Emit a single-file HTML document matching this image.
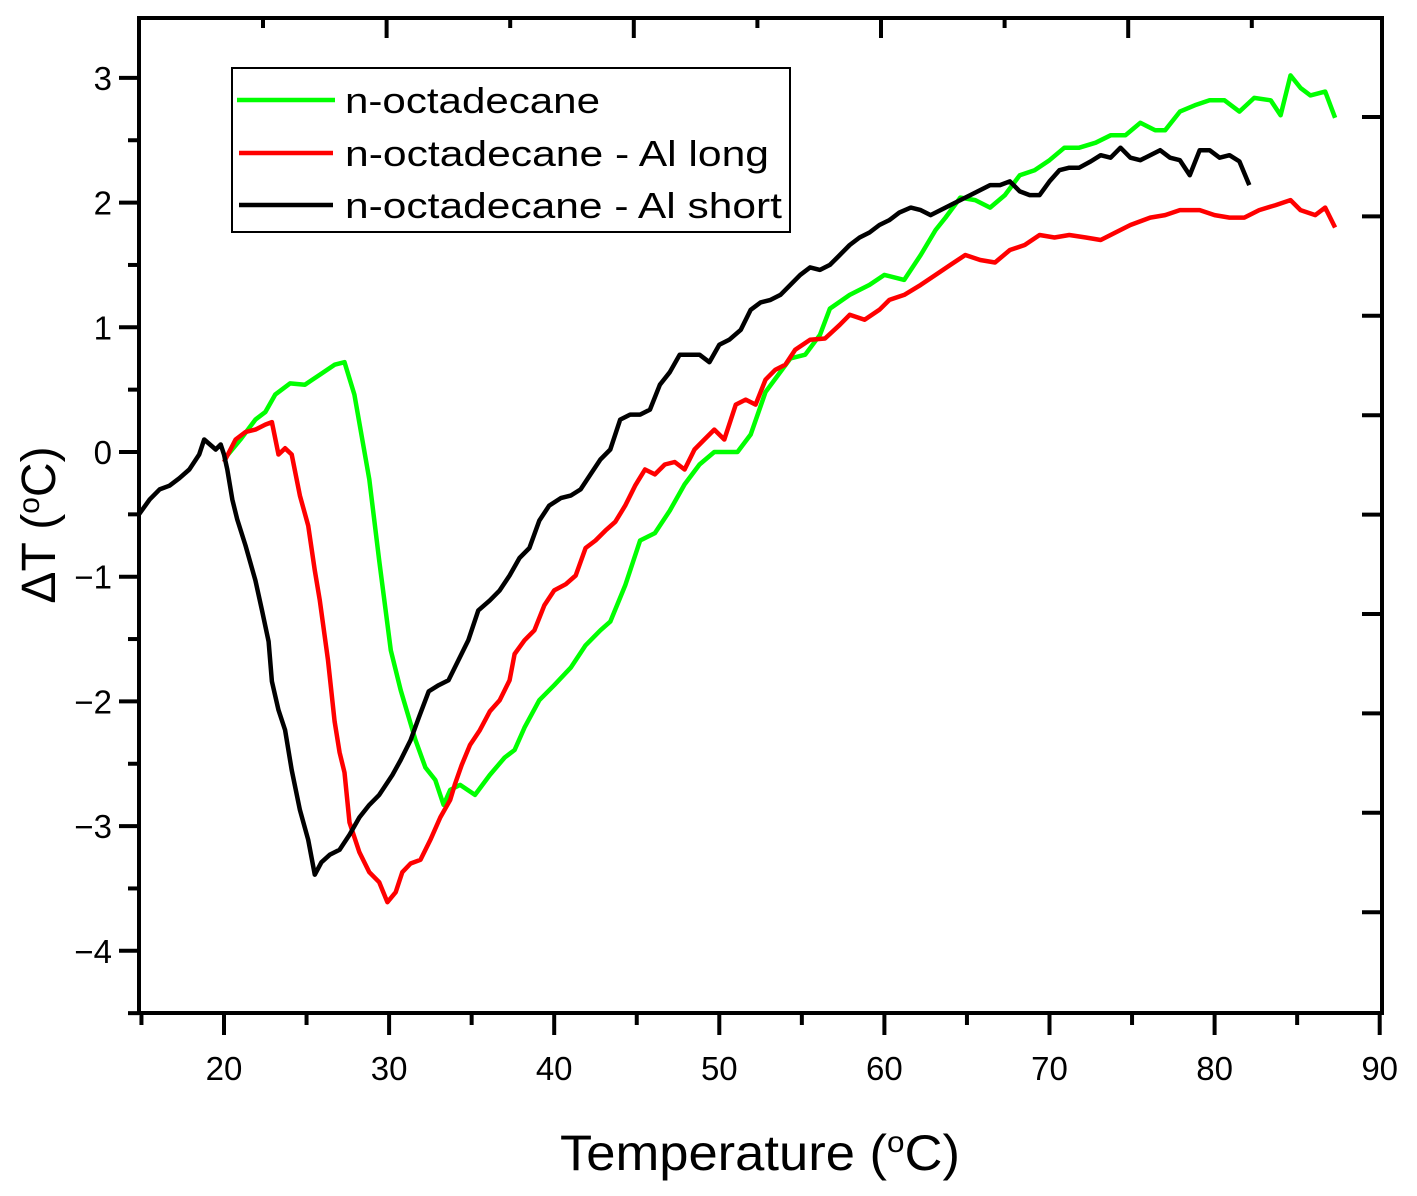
<!DOCTYPE html>
<html><head><meta charset="utf-8"><style>
html,body{margin:0;padding:0;background:#fff;}
svg{display:block;font-family:"Liberation Sans",Arial,sans-serif;}
</style></head><body>
<svg id="chart" width="1417" height="1196" viewBox="0 0 1417 1196" xmlns="http://www.w3.org/2000/svg">
<g id="series"></g>
<g id="axes"></g>
<g id="legend">
<rect x="232" y="68" width="558" height="164" fill="#fff" stroke="#000" stroke-width="2"/>
<line x1="237" y1="100" x2="335" y2="100" stroke="#00ff00" stroke-width="4.5"/>
<text x="345" y="113" font-size="36" textLength="255" lengthAdjust="spacingAndGlyphs">n-octadecane</text>
<line x1="239" y1="153" x2="333" y2="153" stroke="#ff0000" stroke-width="4.5"/>
<text x="345" y="166" font-size="36" textLength="424" lengthAdjust="spacingAndGlyphs">n-octadecane - Al long</text>
<line x1="239" y1="205" x2="333" y2="205" stroke="#000" stroke-width="4.5"/>
<text x="345" y="218" font-size="36" textLength="437" lengthAdjust="spacingAndGlyphs">n-octadecane - Al short</text>
</g>
<text x="560" y="1170" font-size="50" textLength="400" lengthAdjust="spacingAndGlyphs">Temperature (<tspan dy="-18" font-size="30">o</tspan><tspan dy="18">C)</tspan></text>
<text transform="translate(55,525) rotate(-90)" font-size="48" text-anchor="middle">ΔT (<tspan dy="-16" font-size="30">o</tspan><tspan dy="16">C)</tspan></text>
</svg>
<script>
const greenT=[20.0,21.0,21.9,22.5,23.1,24.0,24.9,25.8,26.7,27.3,27.9,28.8,29.4,30.1,30.7,31.6,32.2,32.8,33.3,33.7,34.3,35.2,36.1,37.0,37.6,38.2,39.1,40.0,41.0,41.9,42.8,43.4,44.3,45.2,46.1,47.0,47.9,48.8,49.7,51.1,51.9,52.8,54.3,55.2,56.1,56.7,57.9,59.1,60.0,61.2,62.2,63.1,63.7,64.6,65.5,66.4,67.3,68.2,69.1,70.0,70.9,71.8,72.8,73.7,74.6,75.5,76.4,77.0,77.9,78.8,79.7,80.6,81.5,82.4,83.4,84.0,84.6,85.2,85.8,86.7,87.3];
const greenV=[-0.06,0.10,0.26,0.32,0.46,0.55,0.54,0.62,0.70,0.72,0.46,-0.22,-0.87,-1.59,-1.91,-2.31,-2.53,-2.63,-2.83,-2.71,-2.67,-2.75,-2.59,-2.45,-2.39,-2.21,-1.99,-1.87,-1.73,-1.55,-1.43,-1.36,-1.07,-0.71,-0.65,-0.47,-0.26,-0.10,0.0,0.0,0.14,0.48,0.75,0.78,0.94,1.15,1.26,1.34,1.42,1.38,1.58,1.78,1.88,2.04,2.02,1.96,2.06,2.22,2.26,2.34,2.44,2.44,2.48,2.54,2.54,2.64,2.58,2.58,2.73,2.78,2.82,2.82,2.73,2.84,2.82,2.70,3.02,2.92,2.86,2.89,2.68];
const redT=[20.0,20.7,21.3,21.9,22.5,22.9,23.3,23.7,24.1,24.6,25.1,25.5,25.8,26.3,26.7,27.0,27.3,27.6,28.2,28.8,29.4,29.9,30.4,30.8,31.3,31.9,32.5,33.1,33.7,34.0,34.4,34.9,35.5,36.1,36.7,37.3,37.6,38.2,38.8,39.4,40.0,40.7,41.3,41.9,42.5,43.1,43.7,44.3,44.9,45.5,46.1,46.7,47.3,47.9,48.5,49.1,49.7,50.3,51.0,51.6,52.2,52.8,53.4,54.0,54.6,55.5,56.4,57.3,57.9,58.8,59.7,60.3,61.2,62.2,63.1,64.0,64.9,65.8,66.7,67.6,68.5,69.4,70.3,71.2,72.2,73.1,74.0,74.9,76.1,77.0,77.9,79.1,80.0,80.9,81.8,82.7,83.7,84.6,85.2,86.1,86.7,87.3];
const redV=[-0.08,0.10,0.16,0.18,0.22,0.24,-0.02,0.03,-0.02,-0.35,-0.59,-0.95,-1.19,-1.67,-2.16,-2.41,-2.57,-2.97,-3.21,-3.37,-3.45,-3.61,-3.53,-3.37,-3.30,-3.27,-3.11,-2.93,-2.79,-2.66,-2.51,-2.35,-2.23,-2.08,-1.99,-1.83,-1.62,-1.51,-1.43,-1.23,-1.11,-1.06,-0.99,-0.77,-0.71,-0.63,-0.56,-0.43,-0.27,-0.14,-0.18,-0.10,-0.08,-0.14,0.02,0.10,0.18,0.10,0.38,0.42,0.38,0.58,0.66,0.70,0.82,0.90,0.91,1.02,1.10,1.06,1.14,1.22,1.26,1.34,1.42,1.50,1.58,1.54,1.52,1.62,1.66,1.74,1.72,1.74,1.72,1.70,1.76,1.82,1.88,1.90,1.94,1.94,1.90,1.88,1.88,1.94,1.98,2.02,1.94,1.90,1.96,1.80];
const blackT=[14.8,15.5,16.1,16.7,17.3,17.9,18.5,18.8,19.5,19.8,20.0,20.2,20.5,20.8,21.3,21.9,22.3,22.7,22.9,23.3,23.7,24.1,24.6,25.1,25.5,25.9,26.4,27.0,27.6,28.2,28.8,29.4,30.2,30.7,31.3,31.8,32.4,33.0,33.6,34.2,34.8,35.4,36.1,36.7,37.3,37.9,38.5,39.1,39.7,40.4,41.0,41.6,42.2,42.8,43.4,44.0,44.6,45.2,45.8,46.4,47.0,47.6,48.2,48.8,49.4,50.0,50.6,51.3,51.9,52.5,53.1,53.7,54.3,54.9,55.5,56.1,56.7,57.3,57.9,58.5,59.1,59.7,60.3,60.9,61.6,62.2,62.8,63.4,64.0,64.6,65.2,65.8,66.4,67.0,67.6,68.2,68.8,69.4,70.0,70.6,71.2,71.8,72.5,73.1,73.7,74.3,74.9,75.5,76.1,76.7,77.3,77.9,78.5,79.1,79.7,80.3,80.9,81.5,82.1];
const blackV=[-0.51,-0.38,-0.30,-0.27,-0.21,-0.14,-0.02,0.10,0.02,0.06,-0.02,-0.14,-0.38,-0.54,-0.75,-1.03,-1.27,-1.52,-1.84,-2.07,-2.23,-2.55,-2.87,-3.11,-3.39,-3.29,-3.23,-3.19,-3.07,-2.93,-2.83,-2.75,-2.59,-2.47,-2.31,-2.13,-1.92,-1.87,-1.83,-1.67,-1.51,-1.27,-1.19,-1.11,-0.99,-0.85,-0.77,-0.55,-0.43,-0.37,-0.35,-0.30,-0.18,-0.06,0.02,0.26,0.30,0.30,0.34,0.54,0.64,0.78,0.78,0.78,0.72,0.86,0.90,0.98,1.14,1.20,1.22,1.26,1.34,1.42,1.48,1.46,1.50,1.58,1.66,1.72,1.76,1.82,1.86,1.92,1.96,1.94,1.90,1.94,1.98,2.02,2.06,2.10,2.14,2.14,2.17,2.09,2.06,2.06,2.17,2.26,2.28,2.28,2.33,2.38,2.36,2.44,2.36,2.34,2.38,2.42,2.36,2.34,2.22,2.42,2.42,2.36,2.38,2.33,2.14];
const xTicks=[20,30,40,50,60,70,80,90];
const yTicks=[3,2,1,0,-1,-2,-3,-4];
const yTickLabels=["3","2","1","0","\u22121","\u22122","\u22123","\u22124"];

const L=139,R=1382,T=18,B=1013;
const X=t=>224+(t-20)*16.51;
const Y=v=>452-v*124.7;
const NS="http://www.w3.org/2000/svg";
const sg=document.getElementById('series'), ag=document.getElementById('axes');
function mk(tag,attrs,parent){const e=document.createElementNS(NS,tag);for(const k in attrs)e.setAttribute(k,attrs[k]);parent.appendChild(e);return e;}
function series(ts,vs,color,name){
  const d=ts.map((t,i)=>(i?'L':'M')+X(t).toFixed(1)+','+Y(vs[i]).toFixed(1)).join('');
  const p=mk('path',{d:d,fill:'none',stroke:color,'stroke-width':4.5,'stroke-linejoin':'round'},sg);
  
  
}
series(greenT,greenV,'#00ff00','line-octadecane');
series(redT,redV,'#ff0000','line-al-long');
series(blackT,blackV,'#000000','line-al-short');

const frame=mk('rect',{x:L,y:T,width:R-L,height:B-T,fill:'none',stroke:'#000','stroke-width':4},ag);


for(let t=15;t<=90;t+=5){
  const major=t%10===0;
  const tk=mk('line',{x1:X(t),x2:X(t),y1:B,y2:B+(major?22:12),stroke:'#000','stroke-width':4},ag);
  
  
}
xTicks.forEach(t=>{
  const tx=mk('text',{x:X(t),y:1080,'font-size':33,'text-anchor':'middle'},ag);
  tx.textContent=String(t);
  
  
});
for(let v=-4.5;v<=3.01;v+=0.5){
  const major=Math.abs(v-Math.round(v))<0.01;
  const tk=mk('line',{x1:L,x2:L-(major?20:11),y1:Y(v),y2:Y(v),stroke:'#000','stroke-width':4},ag);
  
  
}
yTicks.forEach((v,i)=>{
  const tx=mk('text',{x:112,y:Y(v)+12,'font-size':33,'text-anchor':'end'},ag);
  tx.textContent=yTickLabels[i];
  
  
});
for(let i=0;i<9;i++){
  const x=263+i*123.6, major=i%2===1;
  const tk=mk('line',{x1:x,x2:x,y1:T,y2:T+(major?20:10),stroke:'#000','stroke-width':4},ag);
  
  
}
for(let i=0;i<9;i++){
  const y=117+i*99.4;
  const tk=mk('line',{x1:R,x2:R-20,y1:y,y2:y,stroke:'#000','stroke-width':4},ag);
  
  
}
</script>
</body></html>
